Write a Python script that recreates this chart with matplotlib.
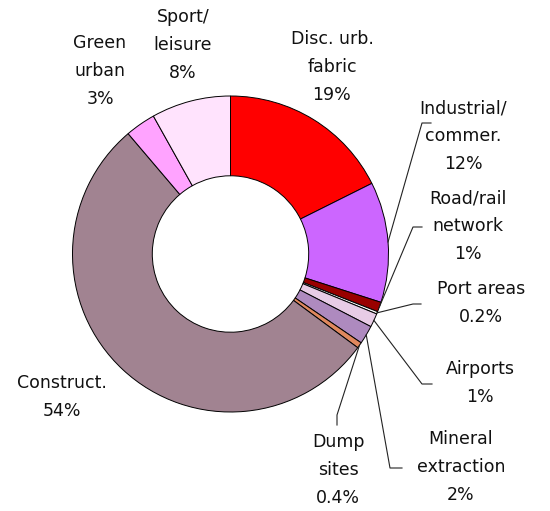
import matplotlib
matplotlib.use("Agg")
import matplotlib.pyplot as plt
import numpy as np

# slice shares (clockwise from 12 o'clock)
categories = ["Disc. urb. fabric", "Industrial/commer.", "Road/rail network", "Port areas",
              "Airports", "Mineral extraction", "Dump sites", "Construct.",
              "Green urban", "Sport/leisure"]
shares = [17.6, 12.3, 1.0, 0.25, 1.4, 1.9, 0.6, 53.6, 3.1, 8.1]
label_texts = ["Disc. urb.\nfabric\n19%", "Industrial/\ncommer.\n12%", "Road/rail\nnetwork\n1%",
               "Port areas\n0.2%", "Airports\n1%", "Mineral\nextraction\n2%", "Dump\nsites\n0.4%",
               "Construct.\n54%", "Green\nurban\n3%", "Sport/\nleisure\n8%"]
colors = ["#ff0000", "#cc66ff", "#990000", "#ffffff", "#e8cce6", "#ae8abf", "#e0885e",
          "#a18391", "#ffa3ff", "#ffe3fd"]

W, H = 550, 511
cx, cy, R = 230.5, 254, 158.0

def px(x, y):
    return (x - cx) / R, (cy - y) / R

fig = plt.figure(figsize=(W / 100, H / 100), dpi=100)
ax = fig.add_axes([0, 0, 1, 1])
ax.axis("off")

wedges, _ = ax.pie(shares, colors=colors, startangle=90, counterclock=False, radius=1.0,
                   wedgeprops=dict(width=0.505, edgecolor="black", linewidth=0.7))
ax.set_aspect("auto")
ax.set_xlim(-cx / R, (W - cx) / R)
ax.set_ylim(-(H - cy) / R, cy / R)

# label centres (px) and leader elbows (px)
label_pos = [(332, 67), (463, 136), (468, 226), (481, 303), (480, 383), (461, 467),
             (338, 470), (62, 397), (100, 71), (183, 45)]
leaders = {
    1: [(422, 123), (431, 123)],
    2: [(413, 227), (422, 227)],
    3: [(413, 304), (421, 304)],
    4: [(422, 384), (432, 384)],
    5: [(390, 468), (402, 468)],
    6: [(337, 415), (337, 425)],
}

for i, (w, txt) in enumerate(zip(wedges, label_texts)):
    x, y = px(*label_pos[i])
    ax.text(x, y, txt, ha="center", va="center", fontsize=12.5, linespacing=1.68,
            color="#111111", family="DejaVu Sans")
    if i in leaders:
        ang = np.deg2rad((w.theta1 + w.theta2) / 2)
        pts = [(np.cos(ang), np.sin(ang))] + [px(*p) for p in leaders[i]]
        xs, ys = zip(*pts)
        ax.plot(xs, ys, color="#222222", lw=0.8)

fig.savefig("out.png", dpi=100)
